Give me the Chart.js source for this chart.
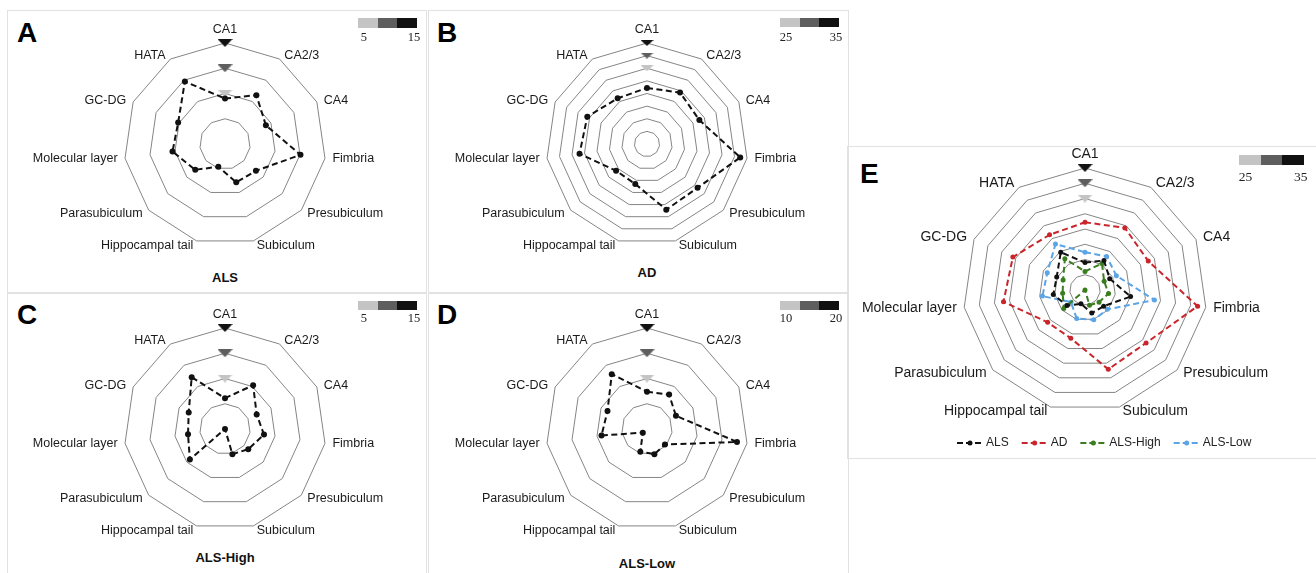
<!DOCTYPE html>
<html><head><meta charset="utf-8">
<script src="https://cdn.jsdelivr.net/npm/chart.js@4.4.1/dist/chart.umd.min.js"></script>
<style>
html,body{margin:0;padding:0;background:#fff;width:1316px;height:573px;overflow:hidden;position:relative;font-family:"Liberation Sans",Arial,sans-serif;}
.box{position:absolute;border:1.5px solid #e2e2e2;box-sizing:border-box;}
.letter{position:absolute;font-weight:bold;font-size:28px;line-height:28px;color:#000;}
.title{position:absolute;font-weight:bold;font-size:13px;line-height:15px;color:#111;text-align:center;width:200px;}
.cb{position:absolute;}
canvas{position:absolute;}
</style></head><body>
<script>
// ---------- data ----------
const categories = ['CA1','CA2/3','CA4','Fimbria','Presubiculum','Subiculum','Hippocampal tail','Parasubiculum','Molecular layer','GC-DG','HATA'];
const alsValues     = [4.0, 6.5, 3.9, 10.1, 3.1, 2.9, -0.3, 2.8, 5.5, 5.2, 9.7];
const adValues      = [17.2, 19.2, 17.8, 32.3, 21.5, 22.1, 11.5, 11.2, 22.0, 21.0, 16.5];
const alsHighValues = [1.1, 5.3, 1.9, 2.8, 1.1, 0.2, -5.0, 4.2, 2.4, 2.9, 7.2];
const alsLowValues  = [7.4, 8.1, 6.3, 18.0, 4.7, 5.2, 4.7, 1.1, 9.1, 8.6, 12.9];
const seriesNames   = ['ALS','AD','ALS-High','ALS-Low'];
const panelLetters  = ['A','B','C','D','E'];
const panelTitles   = ['ALS','AD','ALS-High','ALS-Low',''];
const panelMins     = [-5, -5, -5, 0, -5];
const panelMaxs     = [15, 35, 15, 20, 35];
const tickStep      = 5;
const markerValues  = [[5,10,15],[25,30,35],[5,10,15],[10,15,20],[25,30,35]];
const colorbarLabels= [['5','15'],['25','35'],['5','15'],['10','20'],['25','35']];

// ---------- layout / style ----------
const seriesColors = ['#111111','#C9252B','#3A7D1E','#5BA4E6'];
const markerColors = ['#c4c4c4','#5e5e5e','#111111'];
const layout = [
  {box:{l:8,t:11,w:417,h:280}, cx:225, cy:144, R:101, tri:[15,8], font:12.5, padX:6, padY:4.5, letter:[17,19], title:[225,277], cb:{l:358,t:18,w:59,h:10,lab:38,fs:12.5}},
  {box:{l:430,t:11,w:417,h:280}, cx:647, cy:144, R:101, tri:[13,6], font:12.5, padX:6, padY:4.5, letter:[437,19], title:[647,272], cb:{l:780,t:18,w:59,h:9,lab:38,fs:12.5}},
  {box:{l:8,t:295,w:417,h:278}, cx:225, cy:429, R:101, tri:[15,8], font:12.5, padX:6, padY:4.5, letter:[17,301], title:[225,557], cb:{l:358,t:301,w:59,h:9,lab:319,fs:12.5}},
  {box:{l:430,t:295,w:417,h:278}, cx:647, cy:429, R:101, tri:[15,8], font:12.5, padX:6, padY:4.5, letter:[437,301], title:[647,563], cb:{l:780,t:301,w:59,h:9,lab:319,fs:12.5}},
  {box:{l:850,t:148,w:466,h:309}, cx:1085, cy:290, R:122, tri:[15,8], font:14, padX:6, padY:4.5, letter:[860,160], title:null, cb:{l:1239,t:155,w:65,h:10,lab:177,fs:13.5}}
];

// ---------- frames ----------
function addBox(l,t,r,b){const d=document.createElement('div');d.className='box';d.style.left=l+'px';d.style.top=t+'px';d.style.width=(r-l)+'px';d.style.height=(b-t)+'px';document.body.appendChild(d);}
addBox(7,10,427,293); addBox(428,10,849,293); addBox(7,293,427,590); addBox(428,293,849,590); addBox(847,146,1330,459);

// ---------- plugins ----------
const axisLabelPlugin = {
  id:'axisLabels',
  afterDraw(chart, args, opts){
    const s = chart.scales.r, ctx = chart.ctx, labels = chart.data.labels, n = labels.length;
    ctx.save();
    ctx.font = opts.font + 'px "Liberation Sans", Arial, sans-serif';
    ctx.fillStyle = '#1a1a1a';
    for (let i=0;i<n;i++){
      const p = s.getPointPosition(i, s.drawingArea);
      const a = i*2*Math.PI/n, sx = Math.sin(a), cy = Math.cos(a);
      ctx.textAlign = Math.abs(sx) < 0.05 ? 'center' : (sx > 0 ? 'left' : 'right');
      if (i===0){ ctx.textBaseline = 'bottom'; ctx.fillText(labels[i], p.x, p.y - 7); }
      else { ctx.textBaseline = 'middle'; ctx.fillText(labels[i], p.x + sx*opts.padX + Math.sign(sx)*1.5, p.y - cy*opts.padY); }
    }
    const cb = opts.cb;
    if (cb){
      ctx.font = cb.fs + 'px "Liberation Serif", "DejaVu Serif", serif';
      ctx.fillStyle = '#222'; ctx.textBaseline = 'middle'; ctx.textAlign = 'center';
      const segW = cb.w/3;
      opts.cbLabels.forEach((txt,j)=>{
        const x = j===0 ? cb.l + segW*0.3 : cb.l + cb.w - segW*0.15;
        ctx.fillText(txt, x - opts.ox, cb.lab - opts.oy);
      });
    }
    ctx.restore();
  }
};
const seriesLegendPlugin = {
  id:'seriesLegend',
  afterDraw(chart, args, opts){
    if (!opts.show) return;
    const ctx = chart.ctx;
    ctx.save();
    ctx.font = '12px "Liberation Sans", Arial, sans-serif';
    ctx.textBaseline = 'middle'; ctx.textAlign = 'left';
    let x = opts.x; const y = opts.y;
    chart.data.datasets.filter(d=>d.isSeries).forEach(d=>{
      ctx.strokeStyle = d.borderColor; ctx.lineWidth = 2; ctx.setLineDash([6,3]);
      ctx.beginPath(); ctx.moveTo(x, y); ctx.lineTo(x+25, y); ctx.stroke();
      ctx.setLineDash([]);
      ctx.fillStyle = d.borderColor; ctx.beginPath(); ctx.arc(x+13, y, 2.5, 0, Math.PI*2); ctx.fill();
      ctx.fillStyle = '#222';
      ctx.fillText(d.label, x+29, y);
      x += 29 + ctx.measureText(d.label).width + 13;
    });
    ctx.restore();
  }
};

function triImg(color, w, h){
  const c = document.createElement('canvas'); c.width = w; c.height = h;
  const g = c.getContext('2d'); g.fillStyle = color;
  g.beginPath(); g.moveTo(0,0); g.lineTo(w,0); g.lineTo(w/2,h); g.closePath(); g.fill();
  return c;
}

function seriesDataset(name, values, color, pr){
  return {label:name, isSeries:true, data:values, borderColor:color, backgroundColor:color,
    pointBackgroundColor:color, pointBorderColor:color, pointBorderWidth:0, pointRadius:pr,
    borderWidth:2, borderDash:[6,3.5], fill:false, clip:false};
}

function buildPanel(k, seriesList){
  const L = layout[k];
  const le = document.createElement('div'); le.className='letter'; le.textContent = panelLetters[k];
  le.style.left = L.letter[0]+'px'; le.style.top = L.letter[1]+'px'; document.body.appendChild(le);
  if (L.title && panelTitles[k]){
    const t = document.createElement('div'); t.className='title'; t.textContent = panelTitles[k];
    t.style.left = (L.title[0]-100)+'px'; t.style.top = (L.title[1]-7.5)+'px'; document.body.appendChild(t);
  }
  const cb = L.cb, segW = cb.w/3;
  markerColors.forEach((c,j)=>{
    const d = document.createElement('div'); d.className='cb'; d.style.background = c;
    d.style.left=(cb.l + j*segW)+'px'; d.style.top=cb.t+'px'; d.style.width=(segW+0.5)+'px'; d.style.height=cb.h+'px';
    document.body.appendChild(d);
  });
  const cv = document.createElement('canvas');
  cv.width = L.box.w; cv.height = L.box.h;
  cv.style.left = L.box.l+'px'; cv.style.top = L.box.t+'px';
  document.body.appendChild(cv);
  const pad = {left:L.cx-L.R-L.box.l, top:L.cy-L.R-L.box.t, right:L.box.l+L.box.w-L.cx-L.R, bottom:L.box.t+L.box.h-L.cy-L.R};
  const markers = markerValues[k].map((v,j)=>({
    label:'marker'+j, isSeries:false,
    data: categories.map((_,i)=> i===0 ? v : null),
    showLine:false, pointStyle: triImg(markerColors[j], L.tri[0], L.tri[1]), pointRadius:6,
    borderWidth:0, backgroundColor:markerColors[j], borderColor:markerColors[j], clip:false
  }));
  new Chart(cv, {
    type:'radar',
    data:{labels:categories, datasets:[...seriesList, ...markers]},
    options:{
      responsive:false, animation:false, events:[],
      layout:{padding:pad},
      elements:{line:{tension:0}},
      plugins:{legend:{display:false}, tooltip:{enabled:false},
        axisLabels:{font:L.font, padX:L.padX, padY:L.padY, cb:L.cb, cbLabels:colorbarLabels[k], ox:L.box.l, oy:L.box.t},
        seriesLegend:{show:k===4, x:957-L.box.l, y:443-L.box.t}},
      scales:{r:{min:panelMins[k], max:panelMaxs[k],
        ticks:{stepSize:tickStep, display:false},
        grid:{color:'#858585', lineWidth:1},
        angleLines:{display:false},
        pointLabels:{display:false}}}
    },
    plugins:[axisLabelPlugin, seriesLegendPlugin]
  });
}

buildPanel(0, [seriesDataset(seriesNames[0], alsValues, '#111111', 3)]);
buildPanel(1, [seriesDataset(seriesNames[1], adValues, '#111111', 3)]);
buildPanel(2, [seriesDataset(seriesNames[2], alsHighValues, '#111111', 3)]);
buildPanel(3, [seriesDataset(seriesNames[3], alsLowValues, '#111111', 3)]);
buildPanel(4, [
  seriesDataset(seriesNames[0], alsValues, seriesColors[0], 2.5),
  seriesDataset(seriesNames[1], adValues, seriesColors[1], 2.5),
  seriesDataset(seriesNames[2], alsHighValues, seriesColors[2], 2.5),
  seriesDataset(seriesNames[3], alsLowValues, seriesColors[3], 2.5)
]);
</script>
</body></html>
